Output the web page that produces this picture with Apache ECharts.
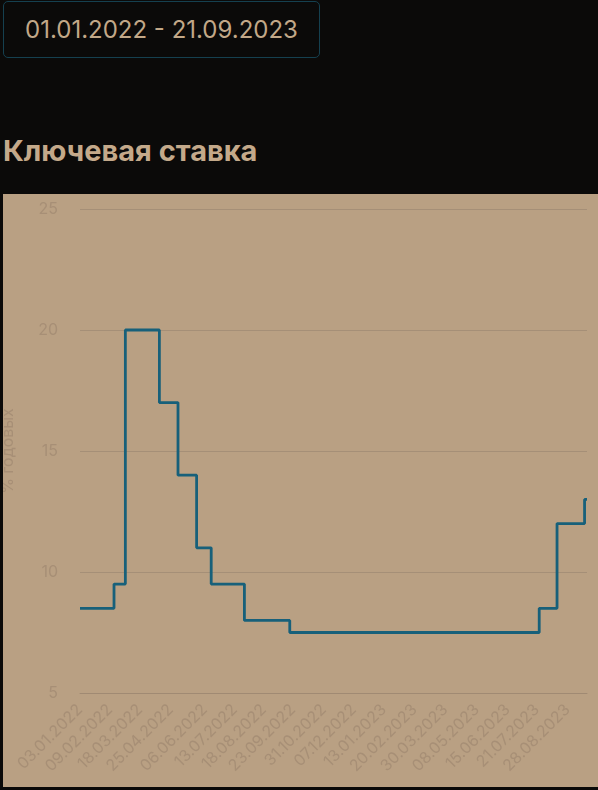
<!DOCTYPE html>
<html><head><meta charset="utf-8">
<script src="https://cdn.jsdelivr.net/npm/echarts@6/dist/echarts.min.js"></script>
<style>
html,body{margin:0;padding:0;background:#0b0a09;width:598px;height:790px;overflow:hidden;font-family:Inter,Roboto,sans-serif;}
#range{position:absolute;left:3px;top:1px;width:315px;height:55px;border:1px solid #15404f;border-radius:5px;color:#c2a888;font-size:24px;line-height:55px;text-align:center;box-sizing:content-box;}
#title{position:absolute;left:3px;top:131px;color:#c4a98a;font-size:29px;font-weight:700;line-height:40px;}
#chart{position:absolute;left:3px;top:194px;width:595px;height:593px;background:#b9a083;}
</style></head>
<body>
<div id="range">01.01.2022 - 21.09.2023</div>
<div id="title">Ключевая ставка</div>
<div id="chart"></div>
<script>
// Key rate change dates and values
var changeDates = ['2022-01-03','2022-02-14','2022-02-28','2022-04-11','2022-05-04','2022-05-27','2022-06-14','2022-07-25','2022-09-19','2023-07-24','2023-08-15','2023-09-18','2023-09-21'];
var rates = [8.5, 9.5, 20, 17, 14, 11, 9.5, 8, 7.5, 8.5, 12, 13, 13];
var tickDates = ['2022-01-03','2022-02-09','2022-03-18','2022-04-25','2022-06-06','2022-07-13','2022-08-18','2022-09-23','2022-10-31','2022-12-07','2023-01-13','2023-02-20','2023-03-30','2023-05-08','2023-06-15','2023-07-21','2023-08-28'];
var yTicks = [5, 10, 15, 20, 25];

function ts(s){return new Date(s+'T00:00:00Z').getTime();}
function fmt(v){var d=new Date(v);var dd=('0'+d.getUTCDate()).slice(-2);var mm=('0'+(d.getUTCMonth()+1)).slice(-2);return dd+'.'+mm+'.'+d.getUTCFullYear();}

var data = changeDates.map(function(d,i){return [ts(d), rates[i]];});
var chart = echarts.init(document.getElementById('chart'), null, {renderer:'canvas'});
var lab = '#a78f76';
chart.setOption({
  animation:false,
  backgroundColor:'#b9a083',
  grid:{left:77,right:11,top:15,bottom:94,containLabel:false,outerBoundsMode:'none'},
  xAxis:{
    type:'value',
    min:ts('2022-01-03'), max:ts('2023-09-21'),
    axisLine:{show:true,lineStyle:{color:'#a08a73',width:1}},
    axisTick:{show:false},
    splitLine:{show:false},
    axisLabel:{
      customValues:tickDates.map(ts),
      rotate:45, color:lab, fontSize:16, fontFamily:'Inter', margin:14,
      hideOverlap:false,
      formatter:function(v){return fmt(v);}
    }
  },
  yAxis:{
    type:'value', min:yTicks[0], max:yTicks[yTicks.length-1], interval:5,
    name:'% годовых', nameLocation:'middle', nameGap:64, nameRotate:90,
    nameTextStyle:{color:lab,fontSize:16,fontFamily:'Inter'},
    axisLine:{show:false}, axisTick:{show:false},
    axisLabel:{color:lab,fontSize:16,fontFamily:'Inter',margin:22},
    splitLine:{lineStyle:{color:'#a58f77',width:1}}
  },
  series:[{
    type:'line', step:'end', data:data, showSymbol:false,
    lineStyle:{color:'#17607a',width:2.8}
  }]
});
</script>
</body></html>
